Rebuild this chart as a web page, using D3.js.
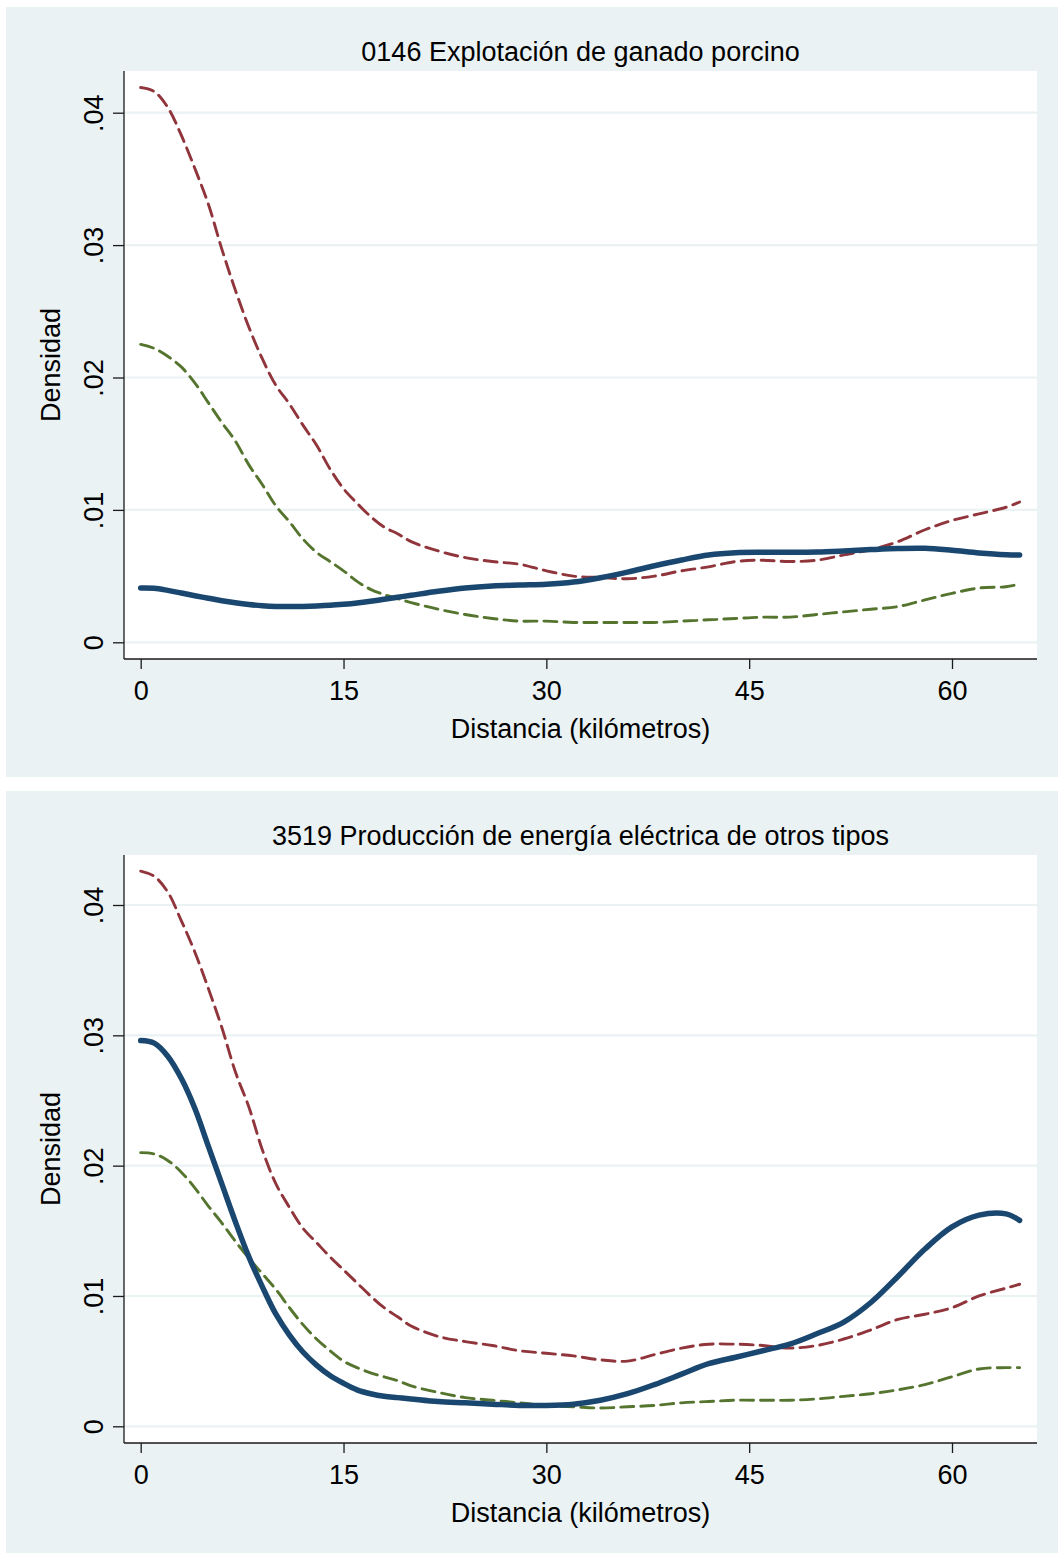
<!DOCTYPE html>
<html>
<head>
<meta charset="utf-8">
<script src="https://cdn.jsdelivr.net/npm/d3@7"></script>
<style>
  html, body { margin: 0; padding: 0; background: #ffffff; }
  svg { display: block; }
  text { font-family: "Liberation Sans", Arial, Helvetica, sans-serif; fill: #000; }
</style>
</head>
<body>
<svg id="chart" width="1058" height="1553"></svg>
<script>
// ---------------- DATA ----------------
const km = [0,1,2,3,4,5,6,7,8,9,10,11,12,13,14,15,16,17,18,19,20,
            22,24,26,28,30,32,34,36,38,40,42,44,46,48,50,52,54,56,58,60,62,64,65];

const panelTitles = [
  "0146 Explotación de ganado porcino",
  "3519 Producción de energía eléctrica de otros tipos"
];
const xTicks = [0, 15, 30, 45, 60];
const yTicks = [0, 0.01, 0.02, 0.03, 0.04];
const yTickLabels = ["0", ".01", ".02", ".03", ".04"];
const xAxisTitle = "Distancia (kilómetros)";
const yAxisTitle = "Densidad";

// Panel 1: 0146
const p1Density = [0.00410,0.00408,0.00392,0.00372,0.00352,0.00333,0.00314,0.00298,0.00285,0.00276,0.00271,0.00270,0.00271,0.00274,0.00279,0.00287,0.00297,0.00310,0.00325,0.00340,0.00355,
                   0.00385,0.00410,0.00425,0.00432,0.00438,0.00455,0.00488,0.00530,0.00578,0.00622,0.00660,0.00677,0.00680,0.00680,0.00682,0.00690,0.00700,0.00708,0.00710,0.00695,0.00675,0.00662,0.00660];
const p1Upper   = [0.0419,0.0416,0.0404,0.0383,0.0358,0.0331,0.0297,0.0266,0.0238,0.0214,0.0194,0.0180,0.0164,0.0149,0.0131,0.0116,0.0105,0.0095,0.0087,0.0082,0.0076,
                   0.0069,0.0064,0.0061,0.0059,0.0054,0.0050,0.0049,0.0048,0.0050,0.0054,0.0057,0.0061,0.0062,0.0061,0.0062,0.0066,0.0070,0.0076,0.0085,0.0092,0.0097,0.0102,0.0106];
const p1Lower   = [0.0225,0.0222,0.0216,0.0208,0.0196,0.0181,0.0166,0.0152,0.0134,0.0119,0.0103,0.0091,0.0078,0.0068,0.0061,0.0054,0.0046,0.0040,0.0036,0.0033,0.0030,
                   0.0025,0.0021,0.0018,0.0016,0.0016,0.0015,0.0015,0.0015,0.0015,0.0016,0.0017,0.0018,0.0019,0.0019,0.0021,0.0023,0.0025,0.0027,0.0032,0.0037,0.0041,0.0042,0.0044];

// Panel 2: 3519
const p2Density = [0.0296,0.0294,0.0284,0.0267,0.0244,0.0215,0.0186,0.0157,0.0130,0.0107,0.0086,0.0070,0.0057,0.0047,0.0039,0.0033,0.0028,0.0025,0.0023,0.0022,0.0021,
                   0.0019,0.0018,0.0017,0.0016,0.0016,0.0017,0.0020,0.0025,0.0032,0.0040,0.0048,0.0053,0.0058,0.0063,0.0071,0.0080,0.0095,0.0115,0.0136,0.0153,0.0162,0.0163,0.0158];
const p2Upper   = [0.0426,0.0422,0.0410,0.0388,0.0364,0.0336,0.0306,0.0272,0.0245,0.0212,0.0186,0.0168,0.0152,0.0141,0.0130,0.0120,0.0110,0.0100,0.0091,0.0084,0.0077,
                   0.0069,0.0065,0.0062,0.0058,0.0056,0.0054,0.0051,0.0050,0.0055,0.0060,0.0063,0.0063,0.0062,0.0060,0.0062,0.0067,0.0074,0.0082,0.0086,0.0091,0.0100,0.0106,0.0109];
const p2Lower   = [0.0210,0.0209,0.0204,0.0195,0.0183,0.0169,0.0156,0.0142,0.0129,0.0117,0.0105,0.0091,0.0078,0.0067,0.0058,0.0050,0.0045,0.0041,0.0038,0.0035,0.0031,
                   0.0026,0.0022,0.0020,0.0018,0.0016,0.0015,0.0014,0.0015,0.0016,0.0018,0.0019,0.0020,0.0020,0.0020,0.0021,0.0023,0.0025,0.0028,0.0032,0.0038,0.0044,0.0045,0.0045];

const panels = [
  { title: panelTitles[0], density: p1Density, upper: p1Upper, lower: p1Lower, y04: 112.7 },
  { title: panelTitles[1], density: p2Density, upper: p2Upper, lower: p2Lower, y04: 121.0 }
];

// ---------------- STYLE / LAYOUT ----------------
const C = { bg: "#EAF2F3", navy: "#1A476F", maroon: "#90353B", green: "#55752F", grid: "#EAF2F3", axis: "#1a1a1a" };
const FS = 27;
const panelH = 784;
const plot = { left: 124, right: 1037, top: 71, bottom: 659 };

const svg = d3.select("#chart");

panels.forEach((p, i) => {
  const g = svg.append("g").attr("transform", `translate(0,${i * panelH})`);

  g.append("rect").attr("x", 6).attr("y", 7).attr("width", 1052).attr("height", 770).attr("fill", C.bg);
  g.append("rect").attr("x", plot.left).attr("y", plot.top)
    .attr("width", plot.right - plot.left).attr("height", plot.bottom - plot.top).attr("fill", "#fff");

  const x = d3.scaleLinear().domain([0, 60]).range([140.7, 952]);
  const y = d3.scaleLinear().domain([0, 0.04]).range([642.3, p.y04]);

  // gridlines
  g.append("g").selectAll("line").data(yTicks).join("line")
    .attr("x1", plot.left).attr("x2", plot.right)
    .attr("y1", d => y(d)).attr("y2", d => y(d))
    .attr("stroke", C.grid).attr("stroke-width", 2.2);

  // lines
  const mk = arr => km.map((k, j) => [k, arr[j]]);
  const line = d3.line().x(d => x(d[0])).y(d => y(d[1])).curve(d3.curveCatmullRom.alpha(0.5));

  g.append("path").datum(mk(p.lower)).attr("d", line)
    .attr("fill", "none").attr("stroke", C.green).attr("stroke-width", 2.9)
    .attr("stroke-dasharray", "13,7").attr("stroke-linecap", "round");
  g.append("path").datum(mk(p.upper)).attr("d", line)
    .attr("fill", "none").attr("stroke", C.maroon).attr("stroke-width", 2.9)
    .attr("stroke-dasharray", "13,7").attr("stroke-linecap", "round");
  g.append("path").datum(mk(p.density)).attr("d", line)
    .attr("fill", "none").attr("stroke", C.navy).attr("stroke-width", 5.5)
    .attr("stroke-linecap", "round").attr("stroke-linejoin", "round");

  // x axis
  const xa = g.append("g").attr("transform", `translate(0,${plot.bottom})`)
    .call(d3.axisBottom(x).tickValues(xTicks).tickSize(10).tickSizeOuter(0).tickPadding(12).tickFormat(d3.format("d")));
  xa.select(".domain").remove();
  xa.selectAll(".tick line").attr("stroke", C.axis).attr("stroke-width", 1.3);
  xa.selectAll(".tick text").attr("font-size", FS).attr("font-family", null).attr("fill", "#000");

  // y axis
  const ya = g.append("g").attr("transform", `translate(${plot.left},0)`)
    .call(d3.axisLeft(y).tickValues(yTicks).tickSize(11).tickSizeOuter(0).tickFormat((d, k) => yTickLabels[k]));
  ya.select(".domain").remove();
  ya.selectAll(".tick line").attr("stroke", C.axis).attr("stroke-width", 1.3);
  ya.selectAll(".tick text")
    .attr("x", 0).attr("y", 0).attr("dy", 0)
    .attr("text-anchor", "middle")
    .attr("transform", "translate(-21,0) rotate(-90)")
    .attr("font-size", FS).attr("font-family", null).attr("fill", "#000");

  // axis lines
  g.append("line").attr("x1", plot.left).attr("x2", plot.left).attr("y1", plot.top).attr("y2", plot.bottom)
    .attr("stroke", C.axis).attr("stroke-width", 1.3);
  g.append("line").attr("x1", plot.left).attr("x2", plot.right).attr("y1", plot.bottom).attr("y2", plot.bottom)
    .attr("stroke", C.axis).attr("stroke-width", 1.3);

  // titles
  g.append("text").attr("x", (plot.left + plot.right) / 2).attr("y", 61)
    .attr("text-anchor", "middle").attr("font-size", FS).text(p.title);
  g.append("text").attr("x", (plot.left + plot.right) / 2).attr("y", 738)
    .attr("text-anchor", "middle").attr("font-size", FS).text(xAxisTitle);
  g.append("text").attr("transform", `translate(60,${(plot.top + plot.bottom) / 2}) rotate(-90)`)
    .attr("text-anchor", "middle").attr("font-size", FS).text(yAxisTitle);
});
</script>
</body>
</html>
